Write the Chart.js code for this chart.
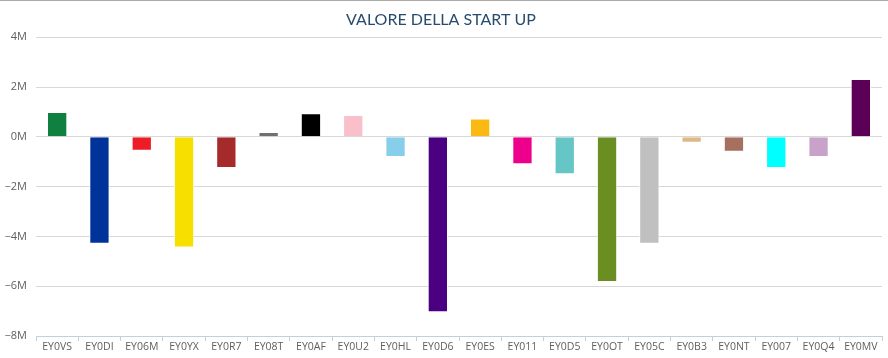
<!DOCTYPE html>
<html>
<head>
<meta charset="utf-8">
<script src="https://cdn.jsdelivr.net/npm/chart.js@4/dist/chart.umd.min.js"></script>
<style>
html,body{margin:0;padding:0;background:#fff;}
#wrap{width:888px;height:358px;position:relative;}
</style>
</head>
<body>
<div id="wrap"><canvas id="c" width="888" height="358"></canvas></div>
<script>
const categories = ["EY0VS","EY0DI","EY06M","EY0YX","EY0R7","EY08T","EY0AF","EY0U2","EY0HL","EY0D6","EY0ES","EY011","EY0D5","EY0OT","EY05C","EY0B3","EY0NT","EY007","EY0Q4","EY0MV"];
const values = [1.0e6,-4.3e6,-0.56e6,-4.45e6,-1.25e6,0.19e6,0.95e6,0.88e6,-0.81e6,-7.05e6,0.73e6,-1.1e6,-1.5e6,-5.83e6,-4.3e6,-0.24e6,-0.6e6,-1.25e6,-0.81e6,2.32e6];
const barColors = ["#0f8040","#003399","#ee1c25","#f7e000","#a52a2a","#707070","#000000","#f9c0cb","#87ceeb","#4b0082","#fdb913","#ec008c","#66c6c6","#6b8e23","#c0c0c0","#deb887","#a57060","#00ffff","#c8a2c8","#5c0057"];
const yTicks = [-8e6,-6e6,-4e6,-2e6,0,2e6,4e6];
const titleText = "VALORE DELLA START UP";

const topBorder = {
  id:'topBorder',
  afterDraw(chart){
    const ctx = chart.ctx;
    ctx.save();
    ctx.strokeStyle = '#aaaaaa';
    ctx.lineWidth = 1;
    ctx.beginPath();
    ctx.moveTo(0,0.5); ctx.lineTo(chart.width,0.5);
    ctx.stroke();
    ctx.restore();
  }
};

new Chart(document.getElementById('c'), {
  type:'bar',
  data:{
    labels:categories,
    datasets:[{
      data:values,
      backgroundColor:barColors,
      borderColor:'rgba(255,255,255,0.9)',
      borderWidth:1,
      categoryPercentage:1,
      barPercentage:0.48
    }]
  },
  options:{
    responsive:false,
    animation:false,
    devicePixelRatio:1,
    layout:{padding:{left:0,right:6,top:0,bottom:0}},
    plugins:{
      legend:{display:false},
      tooltip:{enabled:false},
      title:{
        display:true,
        text:titleText,
        color:'#274b6d',
        font:{family:'Lato',size:16,weight:'normal'},
        padding:{top:10,bottom:8}
      }
    },
    scales:{
      y:{
        min:-8e6,max:4e6,
        afterBuildTicks(scale){ scale.ticks = yTicks.map(v=>({value:v})); },
        afterFit(scale){ scale.width = 36; },
        grid:{color:'#d8d8d8',drawTicks:false,lineWidth:1},
        border:{display:false},
        ticks:{
          padding:9,
          color:'#606060',
          font:{family:'Open Sans',size:11},
          callback:(v)=>(v<0?'\u2212':'')+Math.abs(v/1e6)+'M'
        }
      },
      x:{
        afterFit(scale){ scale.height = 22; },
        grid:{display:true,offset:true,drawOnChartArea:false,drawTicks:true,tickLength:5,color:'#c0d0e0'},
        border:{display:true,color:'#c0d0e0'},
        ticks:{
          padding:0,
          color:'#606060',
          maxRotation:0,autoSkip:false,
          font:{family:'Open Sans',size:10.5}
        }
      }
    }
  },
  plugins:[topBorder]
});
</script>
</body>
</html>
